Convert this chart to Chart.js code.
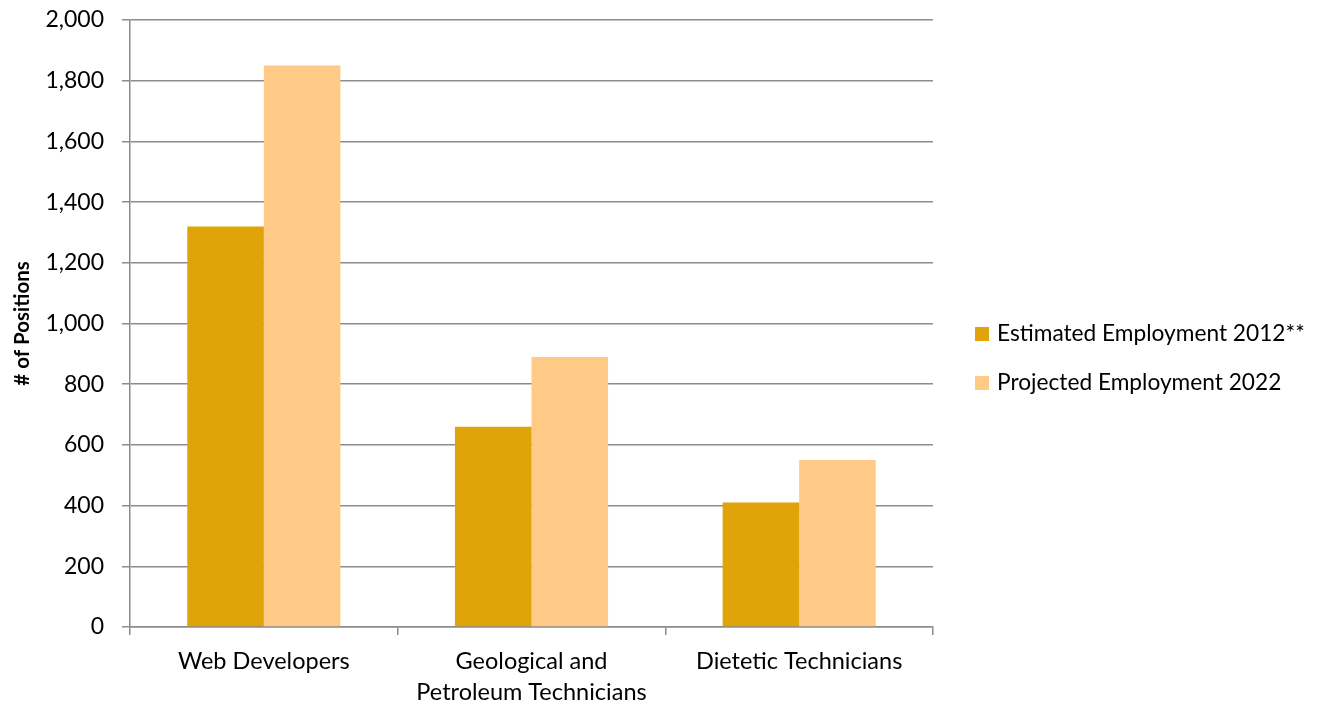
<!DOCTYPE html>
<html>
<head>
<meta charset="utf-8">
<script src="https://cdn.jsdelivr.net/npm/chart.js@4/dist/chart.umd.min.js"></script>
<style>
  html, body { margin: 0; padding: 0; background: #fff; }
  #wrap { width: 1337px; height: 704px; }
</style>
</head>
<body>
<div id="wrap"><canvas id="jobsChart" width="1337" height="704"></canvas></div>
<script>
// Occupations and employment counts
const categories = [
    'Web Developers',
    ['Geological and', 'Petroleum Technicians'],
    'Dietetic Technicians'
];
const estimated2012 = [1320, 660, 410];
const projected2022 = [1850, 890, 550];
const yTicks = [0, 200, 400, 600, 800, 1000, 1200, 1400, 1600, 1800, 2000];

const gridColor = '#8c8c8c';
const font = 'Lato';

// Legend drawn to the right of the plot, one row per dataset
const sideLegend = {
    id: 'sideLegend',
    afterDraw(chart) {
        const ctx = chart.ctx;
        const x = chart.chartArea.right + 42;
        const rows = [334, 383];
        ctx.save();
        ctx.font = '22.7px ' + font;
        ctx.textBaseline = 'middle';
        ctx.textAlign = 'left';
        chart.data.datasets.forEach((ds, i) => {
            ctx.fillStyle = ds.backgroundColor;
            ctx.fillRect(x, rows[i] - 7, 14, 14);
            ctx.fillStyle = '#000';
            ctx.fillText(ds.label, x + 22, rows[i]);
        });
        ctx.restore();
    }
};

new Chart(document.getElementById('jobsChart'), {
    type: 'bar',
    data: {
        labels: categories,
        datasets: [{
            label: 'Estimated Employment 2012**',
            data: estimated2012,
            backgroundColor: '#e0a30a',
            barPercentage: 1,
            categoryPercentage: 0.572
        }, {
            label: 'Projected Employment 2022',
            data: projected2022,
            backgroundColor: '#ffc986',
            barPercentage: 1,
            categoryPercentage: 0.572
        }]
    },
    plugins: [sideLegend],
    options: {
        responsive: false,
        animation: false,
        layout: {
            padding: { top: 20, left: 4, right: 404, bottom: 0 }
        },
        plugins: {
            legend: { display: false },
            tooltip: { enabled: false }
        },
        scales: {
            x: {
                afterFit: axis => { axis.height = 77; },
                grid: {
                    drawOnChartArea: false,
                    drawTicks: true,
                    tickLength: 8,
                    color: gridColor,
                    lineWidth: 1.5
                },
                border: { color: gridColor, width: 1.5 },
                ticks: {
                    color: '#000',
                    padding: 11,
                    maxRotation: 0,
                    font: { family: font, size: 23.5, lineHeight: 1.33 }
                }
            },
            y: {
                min: 0,
                max: 2000,
                afterBuildTicks: axis => {
                    axis.ticks = yTicks.map(v => ({ value: v }));
                },
                afterFit: axis => {
                    axis.width = 126;
                    axis.paddingTop = 0;
                    axis.paddingBottom = 0;
                },
                grid: {
                    color: gridColor,
                    lineWidth: 1.5,
                    tickLength: 8
                },
                border: { color: gridColor, width: 1.5 },
                ticks: {
                    color: '#000',
                    padding: 18,
                    font: { family: font, size: 23 },
                    callback: v => v.toLocaleString('en-US')
                },
                title: {
                    display: true,
                    text: '# of Positions',
                    color: '#000',
                    padding: { top: 6, bottom: 0 },
                    font: { family: font, size: 20.5, weight: 'bold' }
                }
            }
        }
    }
});
</script>
</body>
</html>
